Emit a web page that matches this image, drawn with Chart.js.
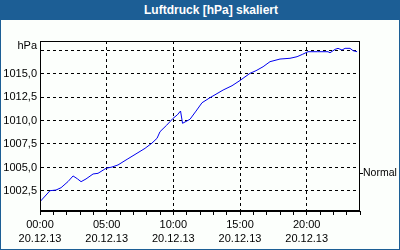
<!DOCTYPE html>
<html>
<head>
<meta charset="utf-8">
<script src="https://cdn.jsdelivr.net/npm/chart.js@4.4.1/dist/chart.umd.min.js"></script>
<style>
  html, body { margin: 0; padding: 0; }
  #box {
    position: relative; width: 398px; height: 249px;
    border: 1px solid #1c5e95; border-top: none;
    background: #fcfffc;
  }
  #head {
    position: absolute; left: -1px; top: 0; width: 400px; height: 20px;
    background: #1c5e95; color: #fff;
    font: bold 12px "Liberation Sans", Arial, sans-serif;
    line-height: 20px; text-align: center; text-indent: 22px;
  }
  #chart { position: absolute; left: -1px; top: 0; }
</style>
</head>
<body>
<div id="box">
  <div id="head">Luftdruck [hPa] skaliert</div>
  <canvas id="chart" width="400" height="250"></canvas>
</div>
<script>
// hours since 00:00 on 20.12.13
const hours = [0, 0.75, 1.2, 1.58, 2.1, 2.48, 2.8, 3.08, 3.45, 3.98, 4.35, 4.95, 5.4, 5.85, 6.53, 7.2, 7.88, 8.4, 8.78, 9.0, 9.5, 9.98, 10.3, 10.54, 10.69, 11.25, 11.7, 12.15, 12.75, 13.2, 13.73, 14.4, 15.0, 15.75, 16.2, 16.73, 17.25, 18.0, 18.75, 19.28, 19.7, 20.1, 20.8, 21.6, 21.75, 22.13, 22.35, 22.65, 22.88, 23.25, 23.48, 23.78];
const pressure = [1001.36, 1002.53, 1002.6, 1002.85, 1003.5, 1004.1, 1003.8, 1003.49, 1003.78, 1004.31, 1004.38, 1004.91, 1005.05, 1005.27, 1005.87, 1006.45, 1007.04, 1007.6, 1008.11, 1008.81, 1009.5, 1010.23, 1010.6, 1011.01, 1009.7, 1010.13, 1011.0, 1011.89, 1012.43, 1012.8, 1013.24, 1013.7, 1014.26, 1015.02, 1015.3, 1015.72, 1016.26, 1016.54, 1016.62, 1016.79, 1017.05, 1017.32, 1017.32, 1017.32, 1017.21, 1017.57, 1017.68, 1017.5, 1017.68, 1017.68, 1017.43, 1017.32];

const yTicks = [1002.5, 1005.0, 1007.5, 1010.0, 1012.5, 1015.0, 1017.5];
const yUnit = 'hPa';
const xLabelHours = [0, 5, 10, 15, 20];
const xLabelTimes = ['00:00', '05:00', '10:00', '15:00', '20:00'];
const dateLabel = '20.12.13';
const normalValue = 1004.4;
const normalLabel = 'Normal';

const yMin = 1000.37, yMax = 1018.46;
const font = { family: '"Liberation Sans", Arial, sans-serif', size: 11, lineHeight: 1.36 };

const frame = {
    id: 'frame',
    afterDatasetsDraw(chart) {
        const a = chart.chartArea;
        const c = chart.ctx;
        c.save();
        c.strokeStyle = '#000';
        c.lineWidth = 1;
        c.strokeRect(Math.round(a.left) + 0.5, Math.round(a.top) + 0.5,
            Math.round(a.right - a.left) - 1, Math.round(a.bottom - a.top) - 1);
        c.restore();
    }
};

new Chart(document.getElementById('chart'), {
    type: 'line',
    data: {
        datasets: [{
            data: hours.map((h, i) => ({ x: h, y: pressure[i] })),
            borderColor: '#0000f0',
            borderWidth: 1,
            pointRadius: 0,
            tension: 0,
            fill: false
        }]
    },
    options: {
        responsive: false,
        animation: false,
        layout: { padding: { top: 41, bottom: 0, left: 0, right: 0 } },
        plugins: { legend: { display: false }, tooltip: { enabled: false } },
        scales: {
            x: {
                type: 'linear',
                min: 0,
                max: 24,
                afterBuildTicks: s => { s.ticks = Array.from({ length: 25 }, (_, i) => ({ value: i })); },
                afterFit: s => { s.height = 39; },
                ticks: {
                    autoSkip: false,
                    maxRotation: 0,
                    color: '#000',
                    font: font,
                    padding: 2,
                    callback: v => {
                        const k = xLabelHours.indexOf(v);
                        return k < 0 ? '' : [xLabelTimes[k], dateLabel];
                    }
                },
                grid: {
                    color: c => (c.tick && c.tick.value % 5 === 0 && c.tick.value > 0 && c.tick.value < 24) ? '#000' : 'rgba(0,0,0,0)',
                    tickColor: '#000',
                    tickLength: 4
                },
                border: { display: true, color: '#000', dash: [3, 3] }
            },
            y: {
                min: yMin,
                max: yMax,
                afterBuildTicks: s => {
                    s.ticks = yTicks.map(v => ({ value: v })).concat([{ value: yMax - 0.53 }]);
                },
                afterFit: s => { s.width = 40; },
                ticks: {
                    color: '#000',
                    font: font,
                    padding: 3,
                    callback: (v, i) => {
                        if (i === yTicks.length) return yUnit;
                        if (i === yTicks.length - 1) return '';
                        return v.toFixed(1).replace('.', ',');
                    }
                },
                grid: {
                    color: c => (c.index < yTicks.length) ? '#000' : 'rgba(0,0,0,0)',
                    drawTicks: false
                },
                border: { display: true, color: '#000', dash: [3, 3] }
            },
            y2: {
                position: 'right',
                min: yMin,
                max: yMax,
                afterBuildTicks: s => { s.ticks = [{ value: normalValue }]; },
                afterFit: s => { s.width = 40; },
                ticks: {
                    color: '#000',
                    font: { family: font.family, size: 10.5 },
                    padding: 0,
                    callback: () => normalLabel
                },
                grid: { drawOnChartArea: false, tickColor: '#000', tickLength: 3 },
                border: { display: false }
            }
        }
    },
    plugins: [frame]
});
</script>
</body>
</html>
